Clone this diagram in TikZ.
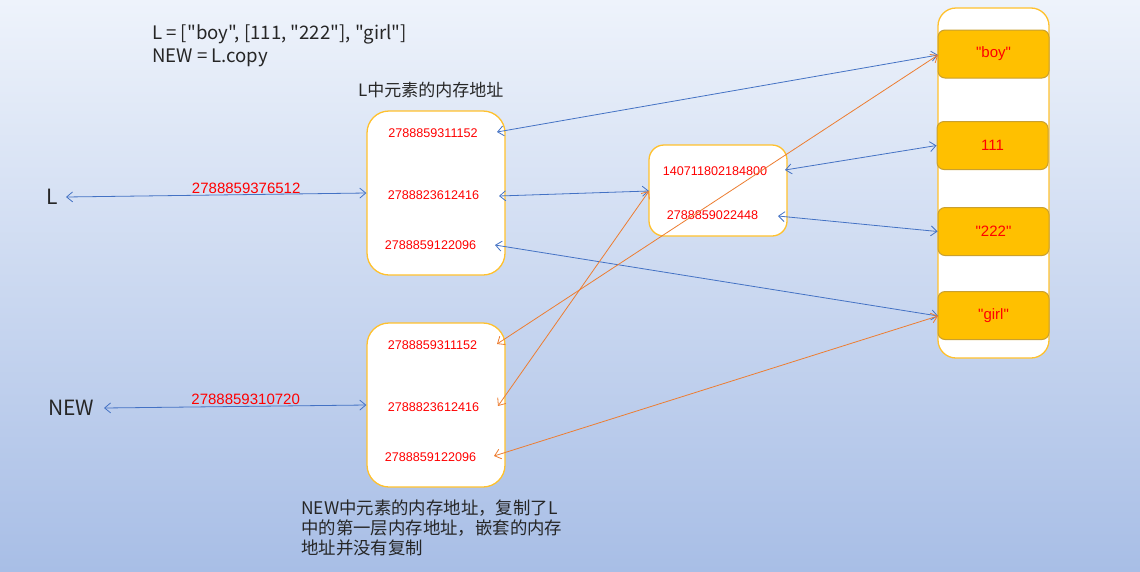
\documentclass[tikz,border=0pt]{standalone}
\usepackage{fontspec}
\newfontfamily\cjk{Noto Sans CJK SC}
\newfontfamily\numfont{Liberation Sans}
\usetikzlibrary{arrows.meta}
\definecolor{bgtop}{HTML}{EEF3FB}
\definecolor{bgbot}{HTML}{A8BEE6}
\definecolor{gold}{HTML}{FFC000}
\definecolor{goldline}{HTML}{C9A030}
\definecolor{bl}{HTML}{4472C4}
\definecolor{orn}{HTML}{ED7D31}
\definecolor{boxline}{HTML}{FFC12E}
\begin{document}
\begin{tikzpicture}[x=1pt,y=-1pt,
 membox/.style={draw=boxline, line width=1.3pt, fill=white, rounded corners=22pt, inner sep=0},
 cell/.style={draw=goldline, line width=1pt, fill=gold, rounded corners=7pt, minimum width=111pt, minimum height=48pt, inner sep=0, text=red, font=\numfont\fontsize{15}{15}\selectfont},
 addr/.style={text=red, font=\numfont\fontsize{12.6}{12.6}\selectfont, inner sep=1pt},
 lab/.style={text=red, font=\numfont\fontsize{15}{15}\selectfont, inner sep=1pt},
 ptr/.style={line width=0.8pt, {Straight Barb[length=6pt,width=10pt]}-{Straight Barb[length=6pt,width=10pt]}},
 blueptr/.style={ptr, draw=bl},
 orangeptr/.style={ptr, draw=orn},
 txt/.style={text=black!85, inner sep=0, font=\cjk\fontsize{17}{22}\selectfont}
]
\useasboundingbox (0,0) rectangle (1140,571);
\shade[top color=bgtop, bottom color=bgbot] (0,0) rectangle (1140,571);

% top texts
\node[txt, anchor=west, font=\cjk\fontsize{18.6}{24}\selectfont] (code1) at (152,34) {L = ["boy", [111, "222"], "girl"]};
\node[txt, anchor=west, font=\cjk\fontsize{18.6}{24}\selectfont] (code2) at (152,58) {NEW = L.copy};
\node[txt, anchor=west] (ltitle) at (358,90) {L中元素的内存地址};

% variable names
\node[txt, font=\cjk\fontsize{21}{21}\selectfont] (Lvar) at (52,197) {L};
\node[txt, font=\cjk\fontsize{21}{21}\selectfont] (NEWvar) at (71,408) {NEW};

% L box
\node[membox, minimum width=138pt, minimum height=164pt] (Lbox) at (436,193) {};
\node[addr] (L1) at (433,133) {2788859311152};
\node[addr] (L2) at (433.5,195) {2788823612416};
\node[addr] (L3) at (430.5,245) {2788859122096};

% NEW box
\node[membox, minimum width=138pt, minimum height=164pt] (Nbox) at (436,405) {};
\node[addr] (N1) at (432.5,345) {2788859311152};
\node[addr] (N2) at (433.5,407) {2788823612416};
\node[addr] (N3) at (430.5,457) {2788859122096};

% middle box
\node[membox, rounded corners=15pt, minimum width=138pt, minimum height=91pt] (Mbox) at (718,190.5) {};
\node[addr] (M1) at (715,171) {140711802184800};
\node[addr] (M2) at (712.5,215) {2788859022448};

% right column
\node[membox, rounded corners=18pt, minimum width=111pt, minimum height=350pt] (col) at (993.5,183) {};
\node[cell] (boy) at (993.5,54) {"boy"};
\node[cell] (one) at (992.5,145.5) {111};
\node[cell] (two) at (993.5,231.5) {"222"};
\node[cell] (girl) at (993.5,315.5) {"girl"};

% connector end points
\coordinate (Lv) at (66,197);
\coordinate (Nv) at (104,408);
\coordinate (La) at (497,132);
\coordinate (Lb) at (499,196);
\coordinate (Lc) at (495,245);
\coordinate (Na) at (497,344);
\coordinate (Nb) at (498,406);
\coordinate (Nc) at (494,456);
\coordinate (Ma) at (785,170);
\coordinate (Mb) at (778,216);
\coordinate (Mw) at (649,191);
\coordinate (boyw) at (938,55);
\coordinate (girlw) at (938,316);

% variable pointers
\draw[blueptr] (Lv) -- node[lab, above, pos=0.6] (Lid) {2788859376512} (Lbox.west);
\draw[blueptr] (Nv) -- node[lab, above, pos=0.54] (Nid) {2788859310720} (Nbox.west);

% blue connectors
\draw[blueptr] (La) -- (boyw);
\draw[blueptr] (Lb) -- (Mw);
\draw[blueptr] (Lc) -- (girlw);
\draw[blueptr] (Ma) -- (one.west);
\draw[blueptr] (Mb) -- (two.west);

% orange connectors
\draw[orangeptr] (boyw) -- (Na);
\draw[orangeptr] (Mw) -- (Nb);
\draw[orangeptr] (girlw) -- (Nc);

% bottom note
\node[txt, anchor=north west, align=left, font=\cjk\fontsize{17.4}{20}\selectfont] (note) at (301,500) {NEW中元素的内存地址，复制了L\\中的第一层内存地址，嵌套的内存\\地址并没有复制};
\end{tikzpicture}
\end{document}
